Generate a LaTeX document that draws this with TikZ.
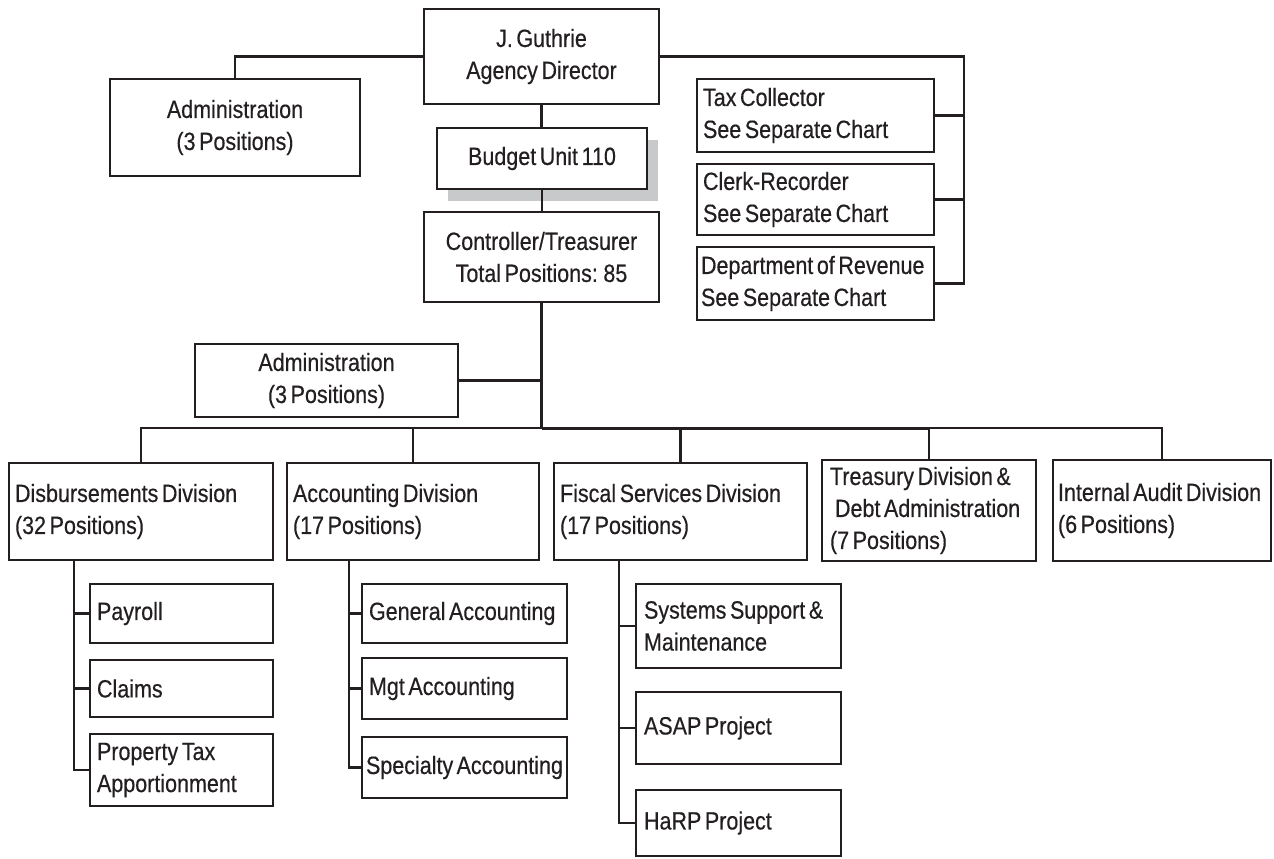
\documentclass[tikz,border=0pt]{standalone}
\usepackage{fontspec}
\setmainfont{Liberation Sans}[FakeStretch=0.86, WordSpace=0.6, FakeBold=0.4]
\usetikzlibrary{shadows}
\definecolor{ink}{HTML}{231F20}
\definecolor{shade}{HTML}{C8C9CA}
\hyphenpenalty=10000
\exhyphenpenalty=10000
\begin{document}
\begin{tikzpicture}[x=1pt,y=-1pt,
  every node/.style={font=\fontsize{25}{32}\selectfont, text=ink},
  box/.style={draw=ink, fill=white, line width=2.2pt, inner ysep=0pt},
  cbox/.style={box, align=center, inner xsep=0pt},
  lbox/.style={box, align=flush left, inner xsep=6pt},
  link/.style={draw=ink, line width=2.2pt},
  trunk/.style={link, line width=3.4pt}]
\useasboundingbox (0,0) rectangle (1274,859);

% top level
\node[cbox, minimum width=235pt, minimum height=95pt] (dir) at (541.5,56.5) {J. Guthrie\\Agency Director};
\node[cbox, minimum width=250pt, minimum height=97pt] (adm1) at (235,127.5) {Administration\\(3 Positions)};
\node[cbox, minimum width=210pt, minimum height=61pt,
      drop shadow={shadow xshift=11pt, shadow yshift=-12pt, fill=shade, opacity=1}] (bud) at (542,158.5) {Budget Unit 110};
\node[cbox, minimum width=235pt, minimum height=90pt] (ctl) at (541.5,257) {Controller/Treasurer\\Total Positions: 85};

% separate charts
\node[lbox, text width=225pt, minimum height=73pt] (tax) at (815.5,115.5) {Tax Collector\\See Separate Chart};
\node[lbox, text width=225pt, minimum height=71pt] (clerk) at (815.5,199.5) {Clerk-Recorder\\See Separate Chart};
\node[lbox, inner xsep=4pt, text width=229pt, minimum height=73pt] (rev) at (815.5,283.5) {Department of Revenue\\See Separate Chart};

\node[cbox, minimum width=263pt, minimum height=73pt] (adm2) at (326.5,380.5) {Administration\\(3 Positions)};

% divisions
\node[lbox, text width=252pt, minimum height=97pt] (disb) at (141,511.5) {Disbursements Division\\(32 Positions)};
\node[lbox, text width=240pt, minimum height=97pt] (acc) at (413,511.5) {Accounting Division\\(17 Positions)};
\node[lbox, text width=241pt, minimum height=97pt] (fis) at (680.5,511.5) {Fiscal Services Division\\(17 Positions)};
\node[lbox, inner xsep=8pt, text width=198pt, minimum height=101pt] (tre) at (929,510.5) {Treasury Division \&\\\hspace*{5pt}Debt Administration\\(7 Positions)};
\node[lbox, inner xsep=5pt, text width=208pt, minimum height=101pt] (aud) at (1162,510.5) {Internal Audit Division\\(6 Positions)};

% units
\node[lbox, inner xsep=7pt, text width=169pt, minimum height=59pt] (pay) at (181.5,613.5) {Payroll};
\node[lbox, inner xsep=7pt, text width=169pt, minimum height=57pt] (clm) at (181.5,688.5) {Claims};
\node[lbox, inner xsep=7pt, text width=169pt, minimum height=72pt] (ptx) at (181.5,770) {Property Tax\\Apportionment};

\node[lbox, inner xsep=7pt, text width=191pt, minimum height=59pt] (gen) at (464.5,613.5) {General Accounting};
\node[lbox, inner xsep=7pt, text width=191pt, minimum height=61pt] (mgt) at (464.5,688.5) {Mgt Accounting};
\node[lbox, inner xsep=4pt, text width=197pt, minimum height=61pt] (spc) at (464.5,767.5) {Specialty Accounting};

\node[lbox, inner xsep=8pt, text width=189pt, minimum height=84pt] (sys) at (738.5,626) {Systems Support \&\\Maintenance};
\node[lbox, inner xsep=8pt, text width=189pt, minimum height=72pt] (asap) at (738.5,728) {ASAP Project};
\node[lbox, inner xsep=8pt, text width=189pt, minimum height=66pt] (harp) at (738.5,823) {HaRP Project};

% connectors: top level
\draw[link] (dir.west) -| (adm1.north);
\coordinate (rail) at (964,56.5);
\draw[link] (dir.east) -- (rail) |- (rev.east);
\draw[link] (tax.east) -- (tax.east -| rail);
\draw[link] (clerk.east) -- (clerk.east -| rail);
\draw[link] (dir.south) -- (dir.south |- bud.north);
\draw[link] (bud.south) -- (bud.south |- ctl.north);

% connectors: divisions
\coordinate (bus) at (541.5,428);
\draw[trunk] (ctl.south) -- (bus);
\draw[link] (adm2.east) -- (adm2.east -| bus);
\draw[link] (disb.north) -- (disb.north |- bus) -- (aud.north |- bus) -- (aud.north);
\draw[link, line width=3pt] (bus) -- (tre.north |- bus);
\foreach \n in {acc,fis,tre} \draw[link] (\n.north) -- (\n.north |- bus);

% connectors: units
\coordinate (dv) at (74,560);
\draw[link] (dv) |- (ptx.west);
\draw[link] (dv |- pay.west) -- (pay.west);
\draw[link] (dv |- clm.west) -- (clm.west);
\coordinate (av) at (349,560);
\draw[link] (av) |- (spc.west);
\draw[link] (av |- gen.west) -- (gen.west);
\draw[link] (av |- mgt.west) -- (mgt.west);
\coordinate (fv) at (619,560);
\draw[link] (fv) |- (harp.west);
\draw[link] (fv |- sys.west) -- (sys.west);
\draw[link] (fv |- asap.west) -- (asap.west);
\end{tikzpicture}
\end{document}
